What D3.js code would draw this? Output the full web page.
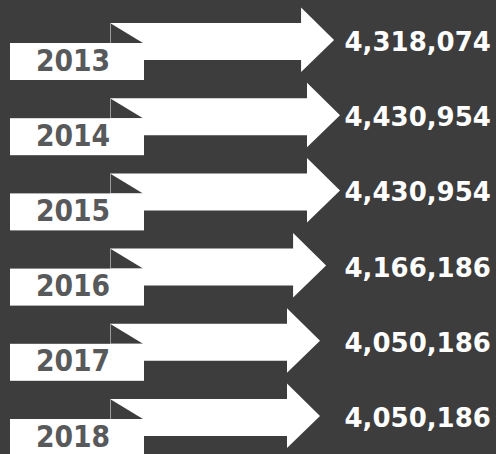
<!DOCTYPE html>
<html><head><meta charset="utf-8">
<script src="https://cdn.jsdelivr.net/npm/d3@7"></script>
<style>html,body{margin:0;padding:0;background:#3d3d3d;overflow:hidden}</style>
</head><body><svg id="chart"></svg>
<script>
const years = ["2013", "2014", "2015", "2016", "2017", "2018"];
const values = [4318074, 4430954, 4430954, 4166186, 4050186, 4050186];

const W = 496, H = 454, BG = "#3d3d3d";
const svg = d3.select("#chart").attr("width", W).attr("height", H);
svg.append("rect").attr("width", W).attr("height", H).attr("fill", BG);

const y = d3.scalePoint().domain(years).range([23, 399]);
const x = d3.scaleLinear().domain([4050186, 4430954]).range([320, 340]);
const fmt = d3.format(",");

const rows = svg.selectAll("g.row")
  .data(years.map((yr, i) => ({ yr, v: values[i] })))
  .join("g").attr("class", "row")
  .attr("transform", d => `translate(0,${y(d.yr)})`);

rows.append("path")
  .attr("fill", "#fff")
  .attr("d", d => {
    const tip = x(d.v), hb = tip - 33;
    return `M110,0 L${hb},0 L${hb},-15.5 L${tip},17 L${hb},49 L${hb},37 L110,37 Z`;
  });

rows.append("path").attr("fill", BG).attr("d", "M110,0 L110,20 L143,20 Z");
rows.append("line").attr("x1", 110.5).attr("x2", 110.5).attr("y1", 0).attr("y2", 20)
  .attr("stroke", "#9a9a9a").attr("stroke-width", 1);

rows.append("rect").attr("x", 10).attr("y", 20).attr("width", 134).attr("height", 37).attr("fill", "#fff");

rows.append("text")
  .attr("transform", "translate(73,47.5) scale(0.89,1)")
  .attr("text-anchor", "middle")
  .attr("font-family", "DejaVu Sans")
  .attr("font-weight", "bold")
  .attr("font-size", 30)
  .attr("fill", "#58595b")
  .text(d => d.yr);

rows.append("text")
  .attr("x", 344.5).attr("y", 28)
  .attr("font-family", "DejaVu Sans")
  .attr("font-weight", "bold")
  .attr("font-size", 26)
  .attr("fill", "#fff")
  .text(d => fmt(d.v));
</script>
</body></html>
